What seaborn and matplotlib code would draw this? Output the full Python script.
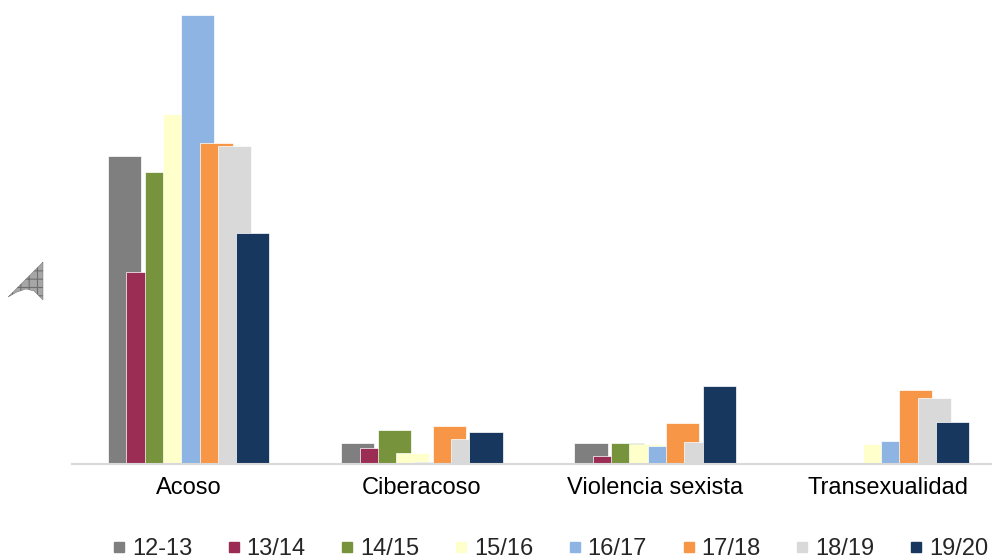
import matplotlib

matplotlib.use("Agg")
import matplotlib.pyplot as plt
import numpy as np
import seaborn as sns
from matplotlib.lines import Line2D
from matplotlib.patches import Polygon

CATEGORIES = ["Acoso", "Ciberacoso", "Violencia sexista", "Transexualidad"]
SERIES = ["12-13", "13/14", "14/15", "15/16", "16/17", "17/18", "18/19", "19/20"]
COLORS = ["#7F7F7F", "#9B2D55", "#77933C", "#FFFFCC", "#8EB4E3", "#F79646", "#D9D9D9", "#17375E"]

# bar heights per series, one value per category
VALUES = {
    "12-13": [308, 21, 21, 0],
    "13/14": [192, 16, 8, 0],
    "14/15": [292, 34, 21, 0],
    "15/16": [350, 11, 20, 20],
    "16/17": [449, 2, 18, 23],
    "17/18": [321, 38, 41, 74],
    "18/19": [318, 25, 22, 66],
    "19/20": [231, 32, 78, 42],
}

W, H = 992, 559
sns.set_theme(style="white")
plt.rcParams["font.family"] = ["Liberation Sans", "DejaVu Sans"]
plt.rcParams["hatch.linewidth"] = 0.8

fig = plt.figure(figsize=(W / 100, H / 100), dpi=100)
left, right, top, base = 72, 1005, 0, 464
ax = fig.add_axes([left / W, 1 - base / H, (right - left) / W, (base - top) / H])

step = 0.0785
bar_w = 0.142
cat_pos = np.arange(len(CATEGORIES))
for i, (name, color) in enumerate(zip(SERIES, COLORS)):
    xs = cat_pos + (i - 3.5) * step
    sns.barplot(
        x=xs,
        y=VALUES[name],
        color=color,
        width=bar_w,
        native_scale=True,
        edgecolor="white",
        linewidth=0.5,
        saturation=1,
        ax=ax,
    )

ax.set_xlim(-0.5, 3.5)
ax.set_ylim(0, base - top)
ax.set_xticks(cat_pos)
ax.set_xticklabels(CATEGORIES, fontsize=17, color="#000000")
ax.tick_params(axis="x", length=0, pad=9)
ax.set_yticks([])
for side in ["left", "right", "top"]:
    ax.spines[side].set_visible(False)
ax.spines["bottom"].set_color("#D9D9D9")
ax.spines["bottom"].set_linewidth(1.5)

handles = [
    Line2D([], [], marker="s", linestyle="none", markersize=7.5, color=c, label=s)
    for s, c in zip(SERIES, COLORS)
]
fig.legend(
    handles=handles,
    loc="center",
    bbox_to_anchor=(550 / W, 1 - 549 / H),
    ncol=8,
    frameon=False,
    fontsize=17,
    handlelength=0.6,
    handletextpad=0.25,
    columnspacing=1.46,
    borderaxespad=0,
    borderpad=0,
)

# decorative hatched shape at the left edge
shape = Polygon(
    [(8 / W, 1 - 297 / H), (43 / W, 1 - 262 / H), (43 / W, 1 - 300 / H),
     (34 / W, 1 - 291 / H), (26 / W, 1 - 289 / H), (17 / W, 1 - 292 / H)],
    closed=True,
    transform=fig.transFigure,
    facecolor="#A6A6A6",
    edgecolor="#6E6E6E",
    hatch="++",
    linewidth=0.3,
)
fig.patches.append(shape)

fig.savefig("out.png", dpi=100)
